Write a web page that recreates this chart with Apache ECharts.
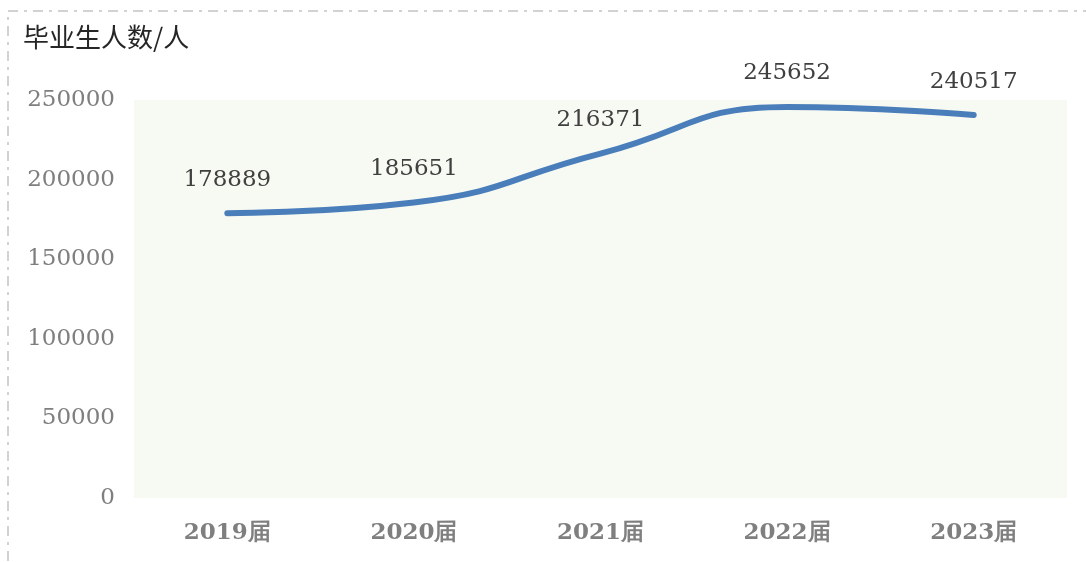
<!DOCTYPE html>
<html>
<head>
<meta charset="utf-8">
<script src="https://cdn.jsdelivr.net/npm/echarts@6/dist/echarts.min.js"></script>
<style>
  html, body { margin: 0; padding: 0; background: #fff; }
  #chart { width: 1086px; height: 562px; }
</style>
</head>
<body>
<div id="chart"></div>
<script>
// 数据
const categories = ['2019届', '2020届', '2021届', '2022届', '2023届']
const graduates = [178889, 185651, 216371, 245652, 240517]
const yTicks = [0, 50000, 100000, 150000, 200000, 250000]

const serif = '"DejaVu Serif", serif'
const mychart = echarts.init(document.getElementById('chart'))

mychart.setOption({
  animation: false,
  // 虚线外框
  graphic: [
    {
      type: 'rect',
      shape: { x: 8, y: 11, width: 1200, height: 600 },
      style: { fill: 'none', stroke: '#d2d2d2', lineWidth: 2, lineDash: [10, 6, 3, 6] },
    },
  ],
  title: {
    text: '毕业生人数/人',
    left: 18,
    top: 19,
    textStyle: {
      fontFamily: '"Noto Sans CJK SC", sans-serif',
      fontSize: 26,
      fontWeight: 'normal',
      color: '#262626',
    },
  },
  grid: {
    left: 134,
    right: 19,
    top: 100,
    bottom: 64,
    show: true,
    backgroundColor: '#f7faf2',
    borderWidth: 0,
  },
  xAxis: {
    type: 'category',
    data: categories,
    axisLine: { show: false },
    axisTick: { show: false },
    axisLabel: {
      margin: 24,
      color: '#7f7f7f',
      fontFamily: serif,
      fontWeight: 'bold',
      fontSize: 23,
    },
  },
  yAxis: {
    type: 'value',
    min: yTicks[0],
    max: yTicks[yTicks.length - 1],
    interval: 50000,
    splitLine: { show: false },
    axisLine: { show: false },
    axisTick: { show: false },
    axisLabel: {
      margin: 19,
      color: '#7f7f7f',
      fontFamily: serif,
      fontSize: 23,
      formatter: (v) => String(v),
    },
  },
  series: [
    {
      type: 'line',
      data: graduates,
      smooth: 0.5,
      showSymbol: true,
      symbol: 'circle',
      symbolSize: 0.1,
      lineStyle: { color: '#4a7ebb', width: 6, cap: 'round' },
      itemStyle: { color: '#4a7ebb' },
      label: {
        show: true,
        position: 'top',
        distance: 22,
        color: '#404040',
        fontFamily: serif,
        fontSize: 23,
      },
    },
  ],
})
</script>
</body>
</html>
